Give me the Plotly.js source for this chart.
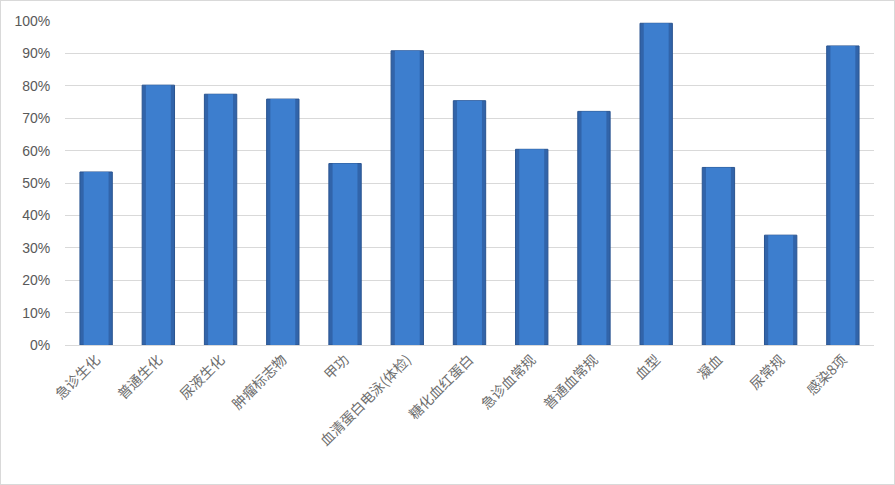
<!DOCTYPE html>
<html>
<head>
<meta charset="utf-8">
<script src="https://cdn.plot.ly/plotly-3.0.1.min.js"></script>
<style>
  html, body { margin: 0; padding: 0; background: #fff; }
  #frame {
    width: 895px; height: 485px; box-sizing: border-box;
    border: 1px solid #D9D9D9; background: #fff;
  }
  #chart { width: 893px; height: 483px; }
</style>
</head>
<body>
<div id="frame"><div id="chart"></div></div>
<script>
// Test items and their completion rates (fraction of 1)
const categories = [
  "急诊生化", "普通生化", "尿液生化", "肿瘤标志物", "甲功",
  "血清蛋白电泳(体检)", "糖化血红蛋白", "急诊血常规", "普通血常规",
  "血型", "凝血", "尿常规", "感染8项"
];
const rates = [
  0.534, 0.802, 0.774, 0.759, 0.560,
  0.908, 0.754, 0.604, 0.721,
  0.993, 0.548, 0.339, 0.923
];
const yTickValues = [0, 0.1, 0.2, 0.3, 0.4, 0.5, 0.6, 0.7, 0.8, 0.9, 1.0];
const yTickLabels = ["0%", "10%", "20%", "30%", "40%", "50%", "60%", "70%", "80%", "90%", "100%"];

// Outer bar body (darker rim) and an inner, lighter face to give a bevelled look
const rim = {
  type: "bar",
  x: categories,
  y: rates,
  width: 0.52,
  marker: { color: "#3164AA", line: { color: "#2A5490", width: 1 } },
  hoverinfo: "x+y"
};
const face = {
  type: "bar",
  x: categories,
  y: rates,
  width: 0.40,
  marker: { color: "#3D7ECE", line: { width: 0 } },
  hoverinfo: "skip"
};

const layout = {
  width: 893,
  height: 483,
  margin: { l: 64, r: 20, t: 20, b: 139 },
  paper_bgcolor: "#ffffff",
  plot_bgcolor: "#ffffff",
  barmode: "overlay",
  showlegend: false,
  font: { family: "Liberation Sans, Arial, sans-serif", color: "#595959", size: 13 },
  xaxis: {
    type: "category",
    tickangle: -45,
    tickfont: { family: "Noto Sans CJK SC, sans-serif", size: 14, color: "#6E6E6E" },
    showgrid: false,
    showline: true,
    linecolor: "#D9D9D9",
    linewidth: 1,
    ticks: "",
    fixedrange: true
  },
  yaxis: {
    range: [0, 1.0],
    tickvals: yTickValues,
    ticktext: yTickLabels,
    tickfont: { family: "Liberation Sans, Arial, sans-serif", size: 14, color: "#595959" },
    showgrid: true,
    gridcolor: "#D9D9D9",
    gridwidth: 1,
    zeroline: false,
    showline: false,
    ticks: "outside",
    ticklen: 11,
    tickcolor: "rgba(0,0,0,0)",
    fixedrange: true
  }
};

Plotly.newPlot("chart", [rim, face], layout, { displayModeBar: false, staticPlot: true });
</script>
</body>
</html>
